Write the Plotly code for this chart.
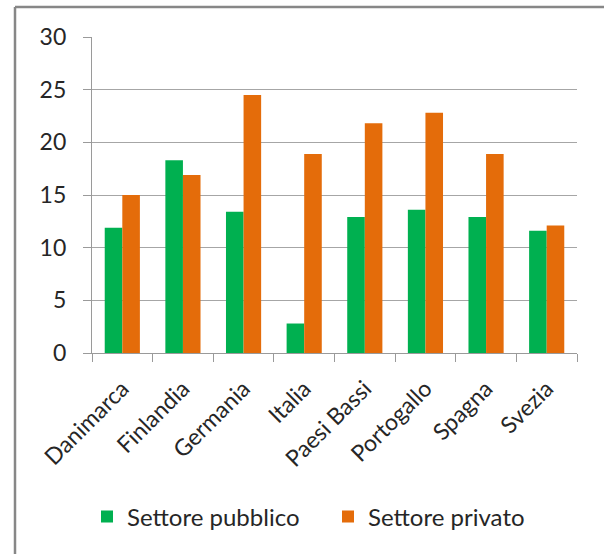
import plotly.graph_objects as go

categories = ["Danimarca", "Finlandia", "Germania", "Italia", "Paesi Bassi", "Portogallo", "Spagna", "Svezia"]
pubblico = [11.9, 18.3, 13.4, 2.8, 12.9, 13.6, 12.9, 11.6]
privato = [15.0, 16.9, 24.5, 18.9, 21.8, 22.8, 18.9, 12.1]
series_names = ["Settore pubblico", "Settore privato"]
y_ticks = [0, 5, 10, 15, 20, 25, 30]

W, H = 604, 554
ML, MR, MT, MB = 92, 27, 37, 201
pw, ph = W - ML - MR, H - MT - MB

def px_x(x):
    return (x - ML) / pw

def px_y(y):
    return (H - MB - y) / ph

font = "Lato, 'Open Sans', sans-serif"
txt = "#262626"

fig = go.Figure()
fig.add_trace(go.Bar(x=categories, y=pubblico, name=series_names[0],
                     marker=dict(color="#00B050", line=dict(width=0))))
fig.add_trace(go.Bar(x=categories, y=privato, name=series_names[1],
                     marker=dict(color="#E46C0A", line=dict(width=0))))

fig.update_layout(
    width=W, height=H,
    margin=dict(l=ML, r=MR, t=MT, b=MB),
    paper_bgcolor="white", plot_bgcolor="white",
    barmode="group", bargap=0.42, bargroupgap=0,
    font=dict(family=font, color=txt, size=22),
    showlegend=True,
    legend=dict(orientation="h", x=px_x(87), xanchor="left", y=px_y(517), yanchor="middle",
                font=dict(size=24, color=txt), bgcolor="rgba(0,0,0,0)",
                entrywidth=196, entrywidthmode="pixels", traceorder="normal"),
    xaxis=dict(showline=True, linecolor="#9a9a9a", linewidth=1.3, tickson="boundaries",
               ticks="outside", ticklen=8, tickcolor="#9a9a9a", tickwidth=1.3,
               tickangle=-45, tickfont=dict(size=23, color=txt), showgrid=False,
               ticklabelstandoff=12),
    yaxis=dict(range=[0, 30], tickvals=y_ticks, showline=True, linecolor="#9a9a9a", linewidth=1.3,
               ticks="outside", ticklen=8, tickcolor="#9a9a9a", tickwidth=1.3,
               showgrid=True, gridcolor="#a6a6a6", gridwidth=1.3, zeroline=False,
               tickfont=dict(size=23, color=txt), ticklabelstandoff=12),
    shapes=[
        dict(type="line", xref="paper", yref="paper", x0=px_x(15), x1=px_x(620), y0=px_y(7), y1=px_y(7),
             line=dict(color="#878787", width=2.5)),
        dict(type="line", xref="paper", yref="paper", x0=px_x(15), x1=px_x(15), y0=px_y(7), y1=px_y(580),
             line=dict(color="#878787", width=2.5)),
    ],
)

fig.write_html("out.html", config={"displayModeBar": False},
               post_script="document.body.style.margin='0px';document.body.style.overflow='hidden';")
